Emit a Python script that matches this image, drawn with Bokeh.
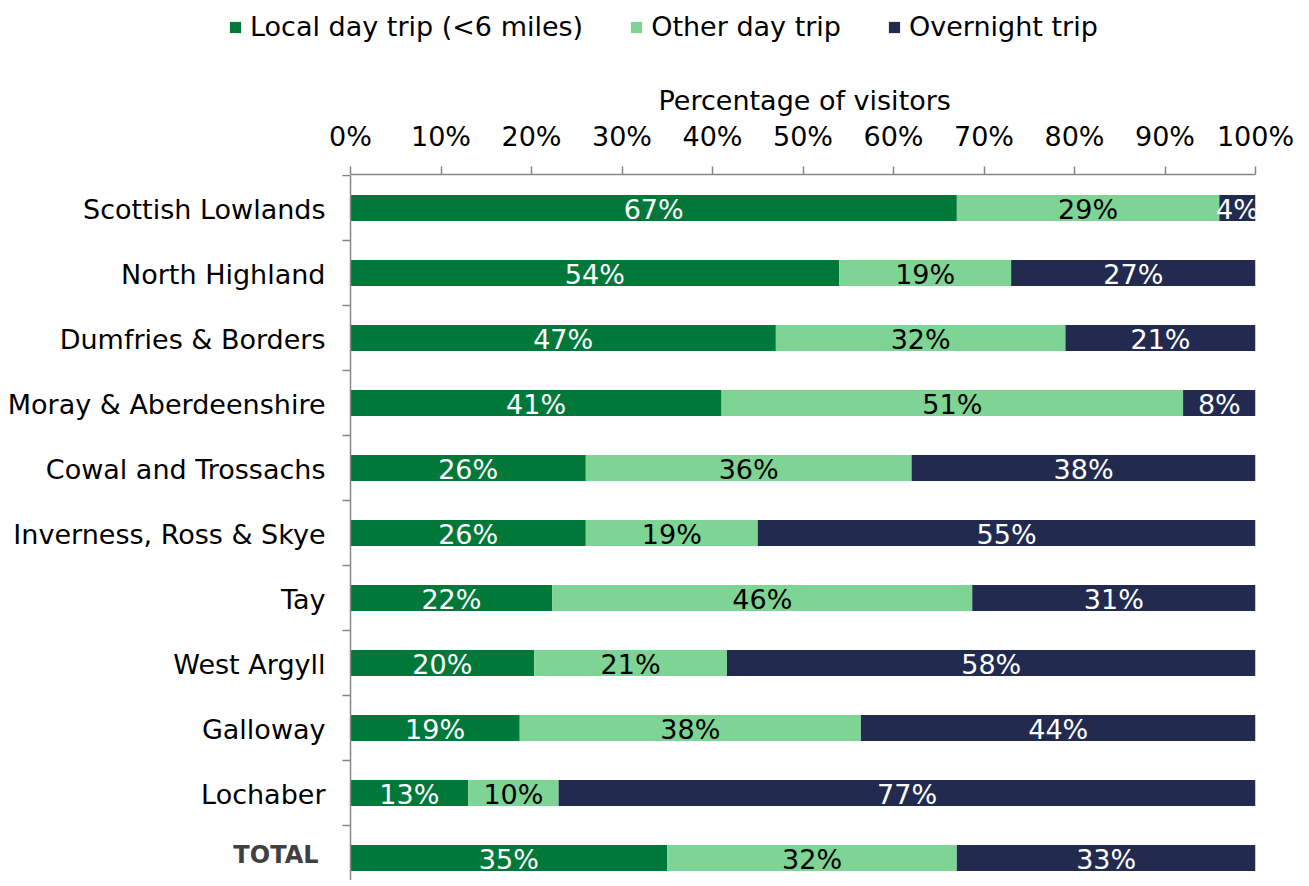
from bokeh.plotting import figure
from bokeh.layouts import column
from bokeh.models import (ColumnDataSource, Range1d, FixedTicker, CustomJSTickFormatter,
                          Legend, LegendItem, Title)
from bokeh.core.properties import value
from bokeh.embed import file_html
from bokeh.resources import INLINE

regions = ["Scottish Lowlands", "North Highland", "Dumfries & Borders", "Moray & Aberdeenshire",
           "Cowal and Trossachs", "Inverness, Ross & Skye", "Tay", "West Argyll", "Galloway",
           "Lochaber", "TOTAL"]
local_day = [67.0, 54.0, 47.0, 41.0, 26.0, 26.0, 22.3, 20.3, 18.7, 13.0, 35.0]
other_day = [29.0, 19.0, 32.0, 51.0, 36.0, 19.0, 46.4, 21.3, 37.7, 10.0, 32.0]
overnight = [4.0, 27.0, 21.0, 8.0, 38.0, 55.0, 31.3, 58.4, 43.6, 77.0, 33.0]
series_names = ["Local day trip (<6 miles)", "Other day trip", "Overnight trip"]
x_ticks = [0, 10, 20, 30, 40, 50, 60, 70, 80, 90, 100]
x_title = "Percentage of visitors"

colors = ["#00783A", "#7DD495", "#222A50"]
text_colors = ["#FFFFFF", "#000000", "#FFFFFF"]
AXIS_COLOR = "#868686"
FONT = "DejaVu Sans"
FS = "27px"

W = 1300
HL = 60                        # legend strip height
H = 880 - HL                   # main figure height
X0, X100 = 350, 1255           # pixel positions of 0% and 100%
TOP = 174 - HL
step = 65.0
pxu = (X100 - X0) / 100.0
x_start = -X0 / pxu
y_top = -0.5 - 1.0 / step
y_bottom = y_top + (H - TOP) / step

# ---- legend strip (legend-only figure; its swatch renderers sit outside the view) ----
lf = figure(width=W, height=HL, output_backend="svg", toolbar_location=None,
            x_range=Range1d(0, 1), y_range=Range1d(0, 1),
            x_axis_location=None, y_axis_location=None,
            min_border_left=0, min_border_right=0, min_border_top=0, min_border_bottom=0)
lf.outline_line_color = None
lf.xgrid.visible = False
lf.ygrid.visible = False
swatch = ColumnDataSource(dict(left=[-10], right=[-9], y=[-10]))
lrs = [lf.hbar(y="y", left="left", right="right", height=1, source=swatch,
               fill_color=c, line_color=None) for c in colors]
legend = Legend(items=[LegendItem(label=series_names[k], renderers=[lrs[k]]) for k in range(3)],
                orientation="horizontal", location=(228, 18))
legend.label_text_font = FONT
legend.label_text_font_size = FS
legend.label_text_color = "#000000"
legend.glyph_width = 14
legend.glyph_height = 14
legend.label_standoff = 8
legend.spacing = 46
legend.padding = 0
legend.margin = 0
legend.border_line_color = None
legend.background_fill_alpha = 0
lf.add_layout(legend)

# ---- main chart ----
p = figure(width=W, height=H, output_backend="svg", toolbar_location=None,
           x_range=Range1d(x_start, 100), y_range=Range1d(y_bottom, y_top),
           x_axis_location="above", y_axis_location=None,
           min_border_left=0, min_border_right=W - X100,
           min_border_top=TOP, min_border_bottom=0)
p.outline_line_color = None
p.xgrid.visible = False
p.ygrid.visible = False
p.background_fill_color = "white"
p.border_fill_color = "white"

idx = list(range(len(regions)))
src = ColumnDataSource(dict(y=idx, local=local_day, other=other_day, over=overnight))
rs = p.hbar_stack(["local", "other", "over"], y="y", height=0.4, color=colors,
                  line_color=None, source=src)

# segment labels (clipped at 100% like the original)
series = [local_day, other_day, overnight]
for s_i, vals in enumerate(series):
    xs, ys, txt = [], [], []
    for i in idx:
        left = sum(series[k][i] for k in range(s_i))
        xs.append(left + vals[i] / 2.0)
        ys.append(i)
        txt.append(f"{vals[i]:.0f}%")
    p.text(x=xs, y=ys, text=txt, text_align="center", text_baseline="middle",
           text_font=value(FONT), text_font_size=FS, text_color=text_colors[s_i], y_offset=1)

# left category axis: line and boundary ticks
n = len(regions)
p.segment(x0=[0], y0=[-0.5], x1=[0], y1=[y_bottom], line_color=AXIS_COLOR, line_width=1.5)
bnds = [i - 0.5 for i in range(n + 1)]
p.segment(x0=[-8 / pxu] * len(bnds), y0=bnds, x1=[0] * len(bnds), y1=bnds,
          line_color=AXIS_COLOR, line_width=1.5)

# category labels
reg_y = [i for i, r in enumerate(regions) if r != "TOTAL"]
reg_t = [r for r in regions if r != "TOTAL"]
p.text(x=[-25 / pxu] * len(reg_y), y=reg_y, text=reg_t, text_align="right", text_baseline="middle",
       text_font=value(FONT), text_font_size=FS, text_color="#000000", y_offset=1)
tot_y = [i for i, r in enumerate(regions) if r == "TOTAL"]
p.text(x=[-32 / pxu] * len(tot_y), y=tot_y, text=["TOTAL"] * len(tot_y), text_align="right",
       text_baseline="middle", text_font=value(FONT), text_font_size="24px",
       text_font_style="bold", text_color="#404040", y_offset=-3)

# top axis
xa = p.xaxis[0]
xa.bounds = (0, 100)
xa.ticker = FixedTicker(ticks=x_ticks)
xa.formatter = CustomJSTickFormatter(code="return tick.toFixed(0) + '%';")
xa.major_label_text_font = FONT
xa.major_label_text_font_size = FS
xa.major_label_text_color = "#000000"
xa.major_label_standoff = 15
xa.axis_line_color = AXIS_COLOR
xa.axis_line_width = 1.5
xa.major_tick_line_color = AXIS_COLOR
xa.major_tick_line_width = 1.5
xa.major_tick_in = 0
xa.major_tick_out = 8
xa.minor_tick_line_color = None

# axis title, centred over the 0-100% span
p.add_layout(Title(text=x_title, align="left", offset=658, standoff=4,
                   text_font=FONT, text_font_size=FS, text_font_style="normal",
                   text_color="#000000"), "above")

layout = column(lf, p, spacing=0)
open("out.html", "w").write(file_html(layout, INLINE))
